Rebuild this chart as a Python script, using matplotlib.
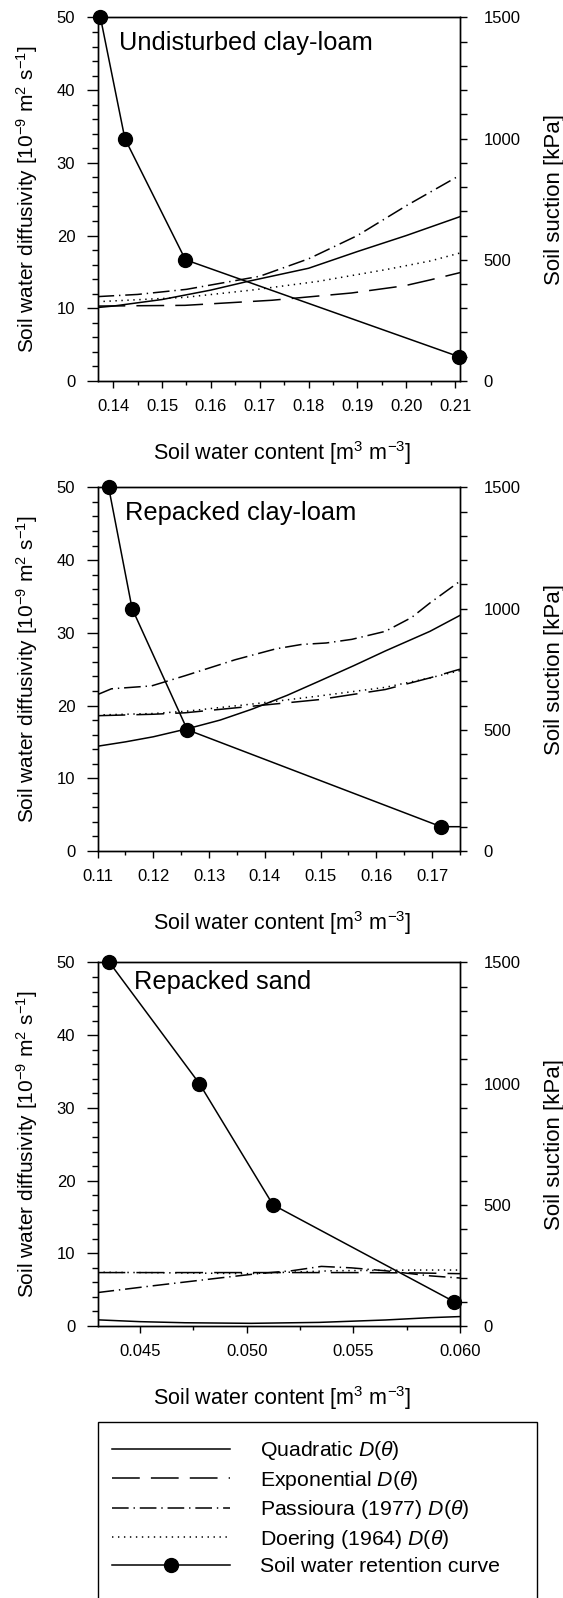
import numpy as np
import matplotlib
matplotlib.use("Agg")
import matplotlib.pyplot as plt
from matplotlib.ticker import MultipleLocator, FormatStrFormatter
from matplotlib.lines import Line2D
from matplotlib.patches import Rectangle

plt.rcParams['font.family'] = ['Liberation Sans', 'DejaVu Sans']
plt.rcParams['mathtext.fontset'] = 'custom'
plt.rcParams['mathtext.rm'] = 'Liberation Sans'
plt.rcParams['mathtext.it'] = 'Liberation Sans:italic'
plt.rcParams['lines.scale_dashes'] = False

# ---- panel 1: undisturbed clay-loam ----
p1_quad_x = [0.1368, 0.1400, 0.1500, 0.1600, 0.1676, 0.1800, 0.1900, 0.2000, 0.2110]
p1_quad_y = [10.1, 10.3, 11.2, 12.5, 13.7, 15.5, 17.8, 20.0, 22.6]
p1_exp_x = [0.1368, 0.1547, 0.1725, 0.1888, 0.1997, 0.2049, 0.2110]
p1_exp_y = [10.3, 10.4, 11.1, 12.1, 13.1, 13.9, 14.9]
p1_pas_x = [0.1368, 0.1450, 0.1550, 0.1650, 0.1700, 0.1800, 0.1900, 0.2000, 0.2110]
p1_pas_y = [11.6, 11.9, 12.6, 13.8, 14.4, 16.8, 20.0, 24.1, 28.3]
p1_doe_x = [0.1368, 0.1547, 0.1684, 0.1820, 0.1957, 0.2049, 0.2110]
p1_doe_y = [10.9, 11.5, 12.5, 13.7, 15.3, 16.5, 17.6]
p1_swrc_x = [0.1374, 0.1424, 0.1548, 0.2108]
p1_swrc_y = [1500, 1000, 500, 100]

# ---- panel 2: repacked clay-loam ----
p2_quad_x = [0.1100, 0.1150, 0.1200, 0.1261, 0.1320, 0.1377, 0.1440, 0.1496,
             0.1560, 0.1616, 0.1696, 0.1750]
p2_quad_y = [14.4, 15.0, 15.7, 16.8, 18.0, 19.5, 21.4, 23.3, 25.5, 27.5, 30.2, 32.4]
p2_exp_x = [0.1100, 0.1200, 0.1257, 0.1377, 0.1496, 0.1616, 0.1696, 0.1750]
p2_exp_y = [18.6, 18.8, 19.0, 19.9, 20.8, 22.2, 23.8, 25.0]
p2_pas_x = [0.1100, 0.1125, 0.1197, 0.1257, 0.1347, 0.1420, 0.1466, 0.1510,
            0.1556, 0.1616, 0.1663, 0.1696, 0.1750]
p2_pas_y = [21.5, 22.3, 22.7, 24.1, 26.3, 27.8, 28.4, 28.6, 29.1, 30.2, 32.1, 34.1, 37.1]
p2_doe_x = [0.1100, 0.1200, 0.1257, 0.1377, 0.1496, 0.1616, 0.1696, 0.1750]
p2_doe_y = [18.7, 18.9, 19.2, 20.2, 21.3, 22.5, 23.8, 24.8]
p2_swrc_x = [0.1120, 0.1162, 0.1261, 0.1716, 0.1750]
p2_swrc_y = [1500, 1000, 500, 100, 100]

# ---- panel 3: repacked sand ----
p3_quad_x = [0.0430, 0.0450, 0.0471, 0.0502, 0.0534, 0.0565, 0.0586, 0.0600]
p3_quad_y = [0.85, 0.6, 0.45, 0.37, 0.5, 0.83, 1.15, 1.3]
p3_exp_x = [0.0430, 0.0470, 0.0510, 0.0550, 0.0580, 0.0600]
p3_exp_y = [7.35, 7.35, 7.35, 7.35, 7.3, 7.2]
p3_pas_x = [0.0430, 0.0455, 0.0487, 0.0505, 0.0521, 0.0535, 0.0549, 0.0565,
            0.0586, 0.0600]
p3_pas_y = [4.6, 5.5, 6.6, 7.2, 7.6, 8.2, 8.0, 7.6, 6.9, 6.6]
p3_doe_x = [0.0430, 0.0470, 0.0500, 0.0540, 0.0580, 0.0600]
p3_doe_y = [7.4, 7.3, 7.2, 7.6, 7.7, 7.7]
p3_swrc_x = [0.04356, 0.04778, 0.05123, 0.05973]
p3_swrc_y = [1500, 1000, 500, 100]

panels = [
    dict(title="Undisturbed clay-loam", tpos=(0.06, 0.93), xlim=(0.1368, 0.2110),
         major=0.01, minor=0.005, fmt='%.2f',
         quad=(p1_quad_x, p1_quad_y), exp=(p1_exp_x, p1_exp_y),
         pas=(p1_pas_x, p1_pas_y), doe=(p1_doe_x, p1_doe_y),
         swrc=(p1_swrc_x, p1_swrc_y), bottom=0.7616),
    dict(title="Repacked clay-loam", tpos=(0.075, 0.93), xlim=(0.11, 0.175),
         major=0.01, minor=0.005, fmt='%.2f',
         quad=(p2_quad_x, p2_quad_y), exp=(p2_exp_x, p2_exp_y),
         pas=(p2_pas_x, p2_pas_y), doe=(p2_doe_x, p2_doe_y),
         swrc=(p2_swrc_x, p2_swrc_y), bottom=0.4675),
    dict(title="Repacked sand", tpos=(0.10, 0.945), xlim=(0.0430, 0.0600),
         major=0.005, minor=0.0025, fmt='%.3f',
         quad=(p3_quad_x, p3_quad_y), exp=(p3_exp_x, p3_exp_y),
         pas=(p3_pas_x, p3_pas_y), doe=(p3_doe_x, p3_doe_y),
         swrc=(p3_swrc_x, p3_swrc_y), bottom=0.1702),
]

LW = 1.1
styles = {
    'quad': dict(ls='-'),
    'exp': dict(ls=(0, (20, 8))),
    'pas': dict(ls=(0, (12, 3.5, 1, 3.5))),
    'doe': dict(ls=(0, (1, 3.3))),
}

fig = plt.figure(figsize=(5.63, 15.98), dpi=100)

for p in panels:
    ax = fig.add_axes([0.1732, p['bottom'], 0.6439, 0.2275])
    ax2 = ax.twinx()

    for key in ['exp', 'doe', 'pas', 'quad']:
        x, y = p[key]
        ax.plot(x, y, color='black', lw=LW, **styles[key])

    sx, sy = p['swrc']
    ax2.plot(sx, sy, color='black', lw=LW, marker='o', markersize=10,
             markevery=list(range(4)), clip_on=False, zorder=5)

    ax.set_xlim(*p['xlim'])
    ax.set_ylim(0, 50)
    ax2.set_ylim(0, 1500)

    ax.xaxis.set_major_locator(MultipleLocator(p['major']))
    ax.xaxis.set_minor_locator(MultipleLocator(p['minor']))
    ax.xaxis.set_major_formatter(FormatStrFormatter(p['fmt']))
    ax.yaxis.set_major_locator(MultipleLocator(10))
    ax.yaxis.set_minor_locator(MultipleLocator(2))
    ax2.yaxis.set_major_locator(MultipleLocator(500))
    ax2.yaxis.set_minor_locator(MultipleLocator(100))

    ax.tick_params(axis='x', which='major', direction='out', length=5, width=1,
                   pad=8, labelsize=12, top=False)
    ax.tick_params(axis='x', which='minor', direction='out', length=3, width=1, top=False)
    ax.tick_params(axis='y', which='major', direction='out', length=8, width=1,
                   pad=8, labelsize=12, right=False)
    ax.tick_params(axis='y', which='minor', direction='out', length=4.5, width=1, right=False)
    ax2.tick_params(axis='y', which='major', direction='out', length=5, width=1,
                    pad=12, labelsize=12)
    ax2.tick_params(axis='y', which='minor', direction='out', length=5, width=1)

    for a in (ax, ax2):
        for s in a.spines.values():
            s.set_linewidth(1.0)

    ax.set_ylabel(r"Soil water diffusivity [10$^{-9}$ m$^2$ s$^{-1}$]", fontsize=15)
    ax.yaxis.set_label_coords(-0.16, 0.5)
    ax2.set_ylabel("Soil suction [kPa]", fontsize=16)
    ax2.yaxis.set_label_coords(1.232, 0.5)
    ax.set_xlabel(r"Soil water content [m$^3$ m$^{-3}$]", fontsize=15.5)
    ax.xaxis.set_label_coords(0.51, -0.16)

    ax.text(p['tpos'][0], p['tpos'][1], p['title'], transform=ax.transAxes,
            fontsize=18.3, ha='left', va='center')

# legend box (runs off the bottom edge like the original)
fig.patches.append(Rectangle((0.174, -0.02), 0.780, 0.1301, transform=fig.transFigure,
                             fill=False, edgecolor='black', lw=1.0))

handles = [
    Line2D([], [], color='black', lw=LW, **styles['quad']),
    Line2D([], [], color='black', lw=LW, **styles['exp']),
    Line2D([], [], color='black', lw=LW, **styles['pas']),
    Line2D([], [], color='black', lw=LW, **styles['doe']),
    Line2D([], [], color='black', lw=LW, marker='o', markersize=10),
]
labels = [
    r"Quadratic $\mathit{D(\theta)}$",
    r"Exponential $\mathit{D(\theta)}$",
    r"Passioura (1977) $\mathit{D(\theta)}$",
    r"Doering (1964) $\mathit{D(\theta)}$",
    "Soil water retention curve",
]
fig.legend(handles, labels, loc='upper left', bbox_to_anchor=(112 / 563, 1 - 1439 / 1598),
           frameon=False, fontsize=15.3, handlelength=5.55, handletextpad=1.4,
           labelspacing=0.31, borderpad=0, borderaxespad=0, numpoints=1)

fig.savefig("out.png", dpi=100)
